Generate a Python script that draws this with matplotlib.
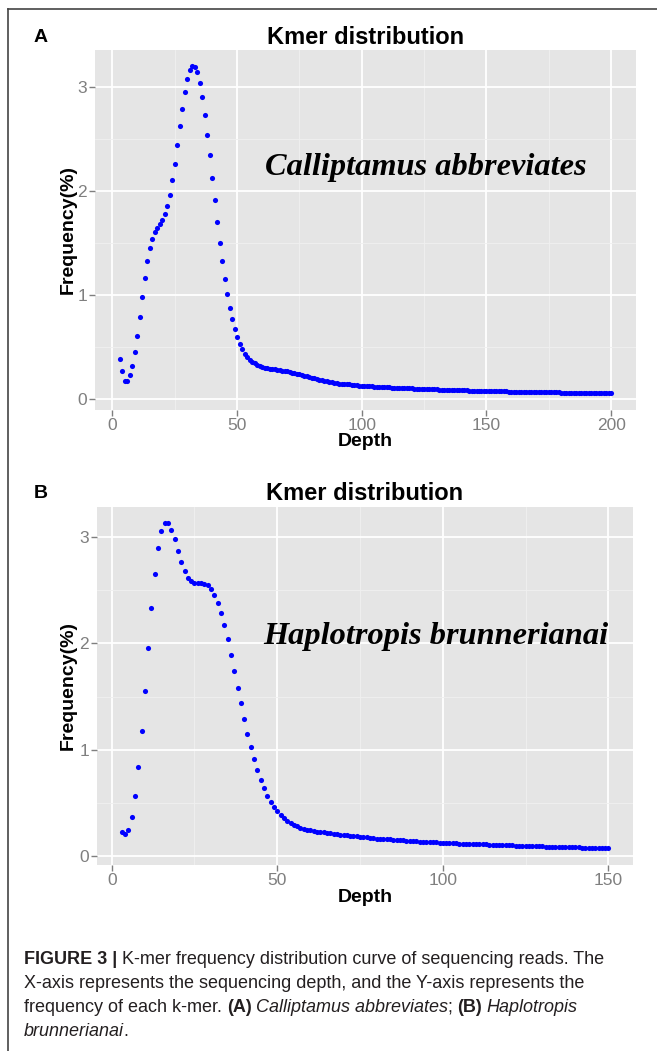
"""K-mer 频率分布图 (A/B 两个物种)"""
import matplotlib
matplotlib.use('Agg')
import matplotlib.pyplot as plt
from matplotlib.ticker import FixedLocator

plt.rcParams['font.family'] = ['Liberation Sans', 'DejaVu Sans']

W, H = 657, 1051

# ── 数据 ──
depth_a = list(range(3, 201))
freq_a = [
    0.385, 0.263, 0.170, 0.176, 0.225, 0.318, 0.446, 0.606, 0.790, 0.980,   # 3-12
    1.160, 1.320, 1.450, 1.540, 1.600, 1.646, 1.680, 1.716, 1.774, 1.854,   # 13-22
    1.963, 2.100, 2.260, 2.440, 2.620, 2.790, 2.950, 3.070, 3.160, 3.200,   # 23-32
    3.190, 3.140, 3.040, 2.900, 2.730, 2.540, 2.340, 2.120, 1.910, 1.700,   # 33-42
    1.500, 1.320, 1.155, 1.007, 0.876, 0.767, 0.670, 0.594, 0.526, 0.475,   # 43-52
    0.433, 0.400, 0.375, 0.355, 0.340, 0.326, 0.315, 0.304, 0.298, 0.293,   # 53-62
    0.289, 0.285, 0.282, 0.279, 0.276, 0.272, 0.268, 0.263, 0.258, 0.252,   # 63-72
    0.246, 0.240, 0.234, 0.228, 0.221, 0.215, 0.208, 0.202, 0.196, 0.190,   # 73-82
    0.184, 0.178, 0.172, 0.167, 0.162, 0.158, 0.154, 0.150, 0.147, 0.144,   # 83-92
    0.142, 0.140, 0.138, 0.135, 0.133, 0.130, 0.128, 0.125, 0.124, 0.122,   # 93-102
    0.121, 0.119, 0.118, 0.116, 0.115, 0.114, 0.112, 0.111, 0.110, 0.109,   # 103-112
    0.107, 0.106, 0.105, 0.104, 0.103, 0.102, 0.101, 0.100, 0.099, 0.098,   # 113-122
    0.097, 0.096, 0.095, 0.094, 0.093, 0.092, 0.091, 0.090, 0.089, 0.088,   # 123-132
    0.088, 0.087, 0.086, 0.085, 0.084, 0.084, 0.083, 0.082, 0.081, 0.081,   # 133-142
    0.080, 0.079, 0.079, 0.078, 0.077, 0.077, 0.076, 0.075, 0.075, 0.074,   # 143-152
    0.074, 0.073, 0.072, 0.072, 0.071, 0.071, 0.070, 0.070, 0.069, 0.069,   # 153-162
    0.068, 0.068, 0.067, 0.067, 0.066, 0.066, 0.065, 0.065, 0.064, 0.064,   # 163-172
    0.063, 0.063, 0.062, 0.062, 0.062, 0.061, 0.061, 0.060, 0.060, 0.060,   # 173-182
    0.059, 0.059, 0.058, 0.058, 0.058, 0.057, 0.057, 0.057, 0.056, 0.056,   # 183-192
    0.056, 0.055, 0.055, 0.055, 0.054, 0.054, 0.054, 0.053,                 # 193-200
]

depth_b = list(range(3, 151))
freq_b = [
    0.229, 0.204, 0.245, 0.370, 0.564, 0.840, 1.176, 1.555, 1.953, 2.330,   # 3-12
    2.655, 2.900, 3.060, 3.135, 3.135, 3.070, 2.980, 2.870, 2.770, 2.680,   # 13-22
    2.620, 2.586, 2.570, 2.567, 2.567, 2.564, 2.550, 2.517, 2.460, 2.380,   # 23-32
    2.285, 2.170, 2.040, 1.890, 1.740, 1.586, 1.440, 1.290, 1.153, 1.025,   # 33-42
    0.912, 0.809, 0.718, 0.640, 0.570, 0.514, 0.464, 0.426, 0.390, 0.360,   # 43-52
    0.335, 0.313, 0.295, 0.280, 0.268, 0.258, 0.250, 0.243, 0.237, 0.232,   # 53-62
    0.227, 0.223, 0.219, 0.215, 0.211, 0.207, 0.203, 0.199, 0.196, 0.192,   # 63-72
    0.189, 0.186, 0.183, 0.180, 0.177, 0.174, 0.171, 0.166, 0.164, 0.161,   # 73-82
    0.159, 0.157, 0.155, 0.152, 0.150, 0.148, 0.146, 0.144, 0.142, 0.140,   # 83-92
    0.138, 0.137, 0.135, 0.133, 0.131, 0.130, 0.128, 0.126, 0.125, 0.123,   # 93-102
    0.122, 0.121, 0.119, 0.118, 0.117, 0.116, 0.114, 0.113, 0.112, 0.111,   # 103-112
    0.110, 0.108, 0.107, 0.106, 0.105, 0.104, 0.103, 0.102, 0.101, 0.100,   # 113-122
    0.099, 0.098, 0.097, 0.096, 0.095, 0.094, 0.093, 0.092, 0.091, 0.090,   # 123-132
    0.089, 0.088, 0.087, 0.086, 0.085, 0.085, 0.084, 0.083, 0.082, 0.081,   # 133-142
    0.080, 0.079, 0.078, 0.078, 0.077, 0.076, 0.075, 0.074,                 # 143-150
]

xticks_a = [0, 50, 100, 150, 200]
xticks_b = [0, 50, 100, 150]
yticks = [0, 1, 2, 3]
species_a = 'Calliptamus abbreviates'
species_b = 'Haplotropis brunnerianai'

fig = plt.figure(figsize=(W / 100, H / 100), dpi=100)


def add_ax(l, t, r, b):
    # 像素坐标 -> figure 坐标
    return fig.add_axes([l / W, 1 - b / H, (r - l) / W, (b - t) / H])


def expand(vals, frac=0.05):
    lo, hi = min(vals), max(vals)
    d = (hi - lo) * frac
    return lo - d, hi + d


def style_ax(ax, xs, ys, xticks):
    ax.set_facecolor('#E5E5E5')
    for s in ax.spines.values():
        s.set_visible(False)
    ax.set_xlim(*expand(xs))
    ax.set_ylim(*expand(ys))
    ax.set_xticks(xticks)
    ax.set_yticks(yticks)
    ax.xaxis.set_minor_locator(FixedLocator([(a + b) / 2 for a, b in zip(xticks[:-1], xticks[1:])]))
    ax.yaxis.set_minor_locator(FixedLocator([0.5, 1.5, 2.5]))
    ax.grid(which='major', color='white', linewidth=1.3)
    ax.grid(which='minor', color='#F0F0F0', linewidth=0.6)
    ax.set_axisbelow(True)
    ax.tick_params(which='major', length=4, width=1, color='#7F7F7F',
                   labelcolor='#7F7F7F', labelsize=12.5, pad=2)
    ax.tick_params(which='minor', length=0)


def txt(x, y, s, **kw):
    return fig.text(x / W, 1 - y / H, s, **kw)


panels = [
    # x, y, 刻度, 物种名, 面板像素位置, 标题 y, 字母, 刻度 y, Depth y, 物种名基线 y, 物种名 x
    (depth_a, freq_a, xticks_a, species_a, (95.4, 49.5, 635.7, 409.7), 37, 'A', 424, 440, 175, 265),
    (depth_b, freq_b, xticks_b, species_b, (97.3, 506.5, 632.8, 864.6), 494, 'B', 879, 896, 644, 263),
]

for xs, ys, xt, sp, box, ty, letter, tick_y, lab_y, sp_y, sp_x in panels:
    ax = add_ax(*box)
    style_ax(ax, xs, ys, xt)
    ax.plot(xs, ys, 'o', color='#0000FF', markersize=3.7, markeredgewidth=0)
    cx = (box[0] + box[2]) / 2
    cy = (box[1] + box[3]) / 2
    txt(cx, ty, 'Kmer distribution', fontsize=17, fontweight='bold', ha='center', va='center')
    txt(34, ty, letter, fontsize=14, fontweight='bold', ha='left', va='center')
    txt(cx, lab_y + 1, 'Depth', fontsize=14, fontweight='bold', ha='center', va='center')
    txt(68, cy, 'Frequency(%)', fontsize=14, fontweight='bold', ha='center', va='center', rotation=90)
    txt(sp_x, sp_y, sp, fontsize=23.3, fontweight='bold', fontstyle='italic',
        family='Liberation Serif', ha='left', va='baseline')

# 外框 (上、左)
fig.add_artist(plt.Line2D([8 / W, 1], [1 - 9 / H, 1 - 9 / H], color='#444444', linewidth=1.2))
fig.add_artist(plt.Line2D([8 / W, 8 / W], [1 - 9 / H, 0], color='#444444', linewidth=1.2))

# ── 图注 (混合字体) ──
CAP_SIZE = 13
renderer = fig.canvas.get_renderer()
SP = 4.8


def rich_line(x, y, pieces):
    for s, style, gap in pieces:
        x += gap
        kw = dict(fontsize=CAP_SIZE, va='baseline', ha='left', color='#231F20')
        if style == 'b':
            kw['fontweight'] = 'bold'
        elif style == 'i':
            kw['fontstyle'] = 'italic'
        t = txt(x, y, s, **kw)
        x = t.get_window_extent(renderer=renderer).x1


rich_line(24, 964, [('FIGURE 3 |', 'b', 0),
                    ('K-mer frequency distribution curve of sequencing reads. The', 'n', SP)])
rich_line(24, 988, [('X-axis represents the sequencing depth, and the Y-axis represents the', 'n', 0)])
rich_line(24, 1012, [('frequency of each k-mer.', 'n', 0), ('(A)', 'b', SP),
                     ('Calliptamus abbreviates', 'i', SP), (';', 'n', -1),
                     ('(B)', 'b', SP), ('Haplotropis', 'i', SP)])
rich_line(24, 1036, [('brunnerianai', 'i', 0), ('.', 'n', -1)])

fig.savefig('out.png', dpi=100)
plt.close()
